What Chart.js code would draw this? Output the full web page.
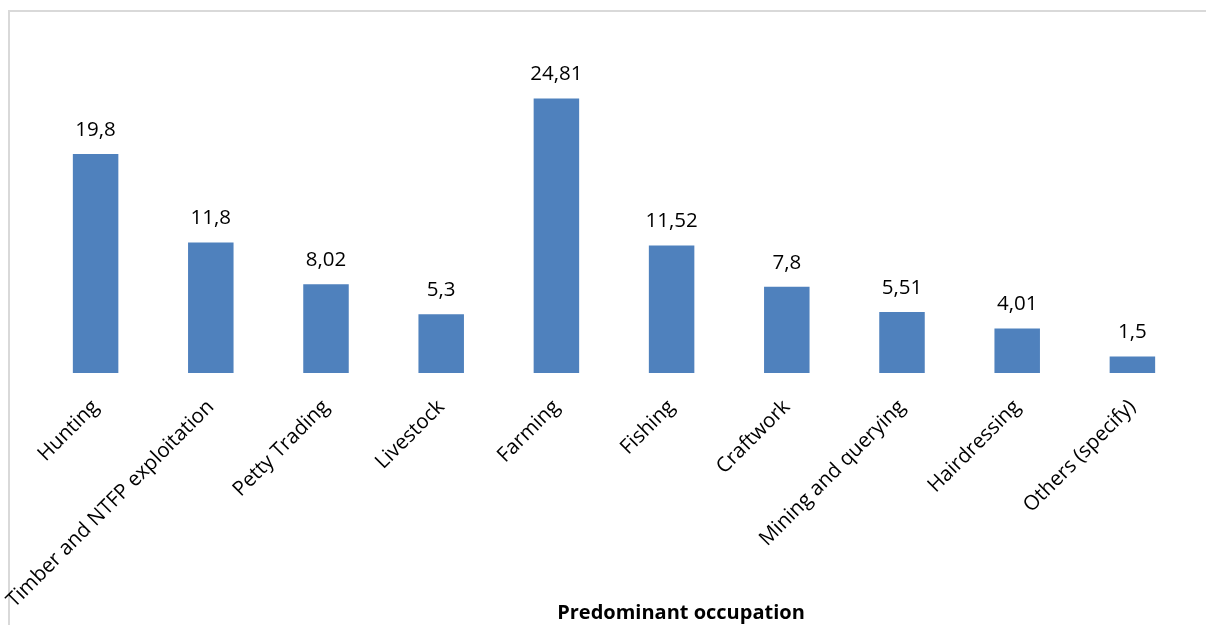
<!DOCTYPE html>
<html>
<head>
<meta charset="utf-8">
<script src="https://cdn.jsdelivr.net/npm/chart.js@4/dist/chart.umd.min.js"></script>
<style>
  html, body { margin: 0; padding: 0; background: #fff; overflow: hidden; }
  #frame { position: absolute; left: 8px; top: 10px; width: 1400px; height: 800px; border: 2px solid #d9d9d9; }
  #wrap { position: absolute; left: 0; top: 0; width: 1206px; height: 625px; }
</style>
</head>
<body>
<div id="frame"></div>
<div id="wrap"><canvas id="c" width="1206" height="625"></canvas></div>
<script>
const categories = ["Hunting", "Timber and NTFP exploitation", "Petty Trading", "Livestock", "Farming", "Fishing", "Craftwork", "Mining and querying", "Hairdressing", "Others (specify)"];
const values = [19.8, 11.8, 8.02, 5.3, 24.81, 11.52, 7.8, 5.51, 4.01, 1.5];
const valueLabels = ["19,8", "11,8", "8,02", "5,3", "24,81", "11,52", "7,8", "5,51", "4,01", "1,5"];
const axisTitle = "Predominant occupation";

const FONT = "'Open Sans', 'Noto Sans', sans-serif";

const valueLabelPlugin = {
  id: 'valueLabels',
  afterDatasetsDraw(chart) {
    const ctx = chart.ctx;
    const meta = chart.getDatasetMeta(0);
    ctx.save();
    ctx.font = "20.5px " + FONT;
    ctx.fillStyle = "#000";
    ctx.textAlign = "center";
    ctx.textBaseline = "middle";
    meta.data.forEach((bar, i) => {
      ctx.fillText(valueLabels[i], bar.x, bar.y - 24);
    });
    // axis title (offset right of the plot centre, as in the original)
    const area = chart.chartArea;
    ctx.font = "bold 20px " + FONT;
    ctx.fillText(axisTitle, (area.left + area.right) / 2 + 67, 613);
    ctx.restore();
  }
};

new Chart(document.getElementById('c'), {
  type: 'bar',
  data: {
    labels: categories,
    datasets: [{
      data: values,
      backgroundColor: '#4F81BD',
      borderWidth: 0,
      barPercentage: 0.79,
      categoryPercentage: 0.5
    }]
  },
  options: {
    responsive: false,
    animation: false,
    devicePixelRatio: 1,
    layout: { padding: { left: 38, right: 16, top: 41, bottom: 0 } },
    plugins: { legend: { display: false }, tooltip: { enabled: false } },
    scales: {
      y: { display: false, min: 0, max: 30 },
      x: {
        grid: { display: false, drawTicks: false },
        border: { display: false },
        ticks: {
          minRotation: 45, maxRotation: 45, autoSkip: false,
          color: '#000', padding: 22,
          font: { family: FONT, size: 20.5 }
        },
        afterFit(scale) { scale.height = 252; }
      }
    }
  },
  plugins: [valueLabelPlugin]
});
</script>
</body>
</html>
